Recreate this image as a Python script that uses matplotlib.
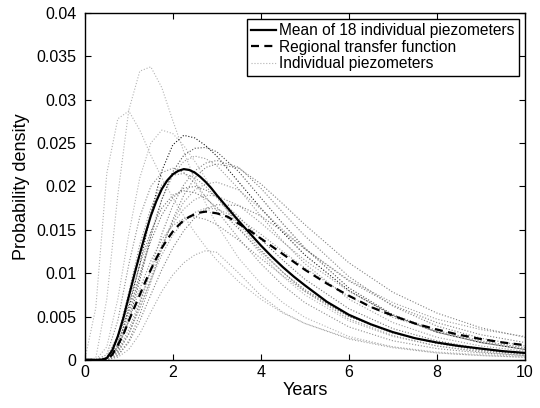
import numpy as np
import matplotlib.pyplot as plt
from matplotlib.ticker import FuncFormatter

plt.rcParams['font.family'] = ['Liberation Sans', 'DejaVu Sans']

years_fine = [0, 0.25, 0.375, 0.5, 0.625, 0.75, 0.875, 1.0, 1.125, 1.25, 1.375, 1.5,
              1.625, 1.75, 1.875, 2.0, 2.125, 2.25, 2.375, 2.5, 2.625, 2.75, 2.875, 3.0,
              3.25, 3.5, 3.75, 4.0, 4.25, 4.5, 4.75, 5.0,
              5.5, 6.0, 6.5, 7.0, 7.5, 8.0, 8.5, 9.0, 9.5, 10.0]

mean_pdf = [0, 0, 0, 0.0002, 0.0011, 0.0027, 0.0048, 0.0073, 0.0098, 0.0122, 0.0145, 0.0166,
            0.0183, 0.0197, 0.0207, 0.0214, 0.0218, 0.0220, 0.0219, 0.0216, 0.0211, 0.0205, 0.0198, 0.0190,
            0.0175, 0.0160, 0.0146, 0.0132, 0.0119, 0.0107, 0.0096, 0.0086,
            0.0067, 0.0052, 0.0041, 0.0032, 0.0025, 0.0020, 0.0016, 0.0013, 0.0010, 0.0008]

regional_pdf = [0, 0, 0, 0, 0.0006, 0.0017, 0.0029, 0.0045, 0.0060, 0.0075, 0.0090, 0.0104,
                0.0117, 0.0129, 0.0139, 0.0148, 0.0155, 0.0161, 0.0165, 0.0168, 0.0170, 0.0171, 0.0170, 0.0169,
                0.0165, 0.0157, 0.0149, 0.0140, 0.0131, 0.0122, 0.0113, 0.0104,
                0.0088, 0.0074, 0.0061, 0.0051, 0.0042, 0.0035, 0.0029, 0.0024, 0.0020, 0.0017]

# 18 individual piezometers
years = [0, 0.25, 0.5, 0.75, 1.0, 1.25, 1.5, 1.75, 2.0, 2.25, 2.5, 2.75,
         3.0, 3.5, 4.0, 4.5, 5.0, 6.0, 7.0, 8.0, 9.0, 10.0]

piezometers = [
    [0, 0.0002, 0.007, 0.019, 0.0288, 0.0333, 0.0338, 0.0314, 0.0276, 0.0240, 0.0208,
     0.0180, 0.0156, 0.0117, 0.0088, 0.0066, 0.0049, 0.0027, 0.0015, 0.0008, 0.0005, 0.0003],
    [0, 0.006, 0.0215, 0.0278, 0.0287, 0.0265, 0.0236, 0.0210, 0.0187, 0.0166, 0.0147,
     0.0130, 0.0115, 0.0090, 0.0070, 0.0054, 0.0042, 0.0025, 0.0015, 0.0009, 0.0006, 0.0004],
    [0, 0, 0.0015, 0.007, 0.0145, 0.0210, 0.0250, 0.0265, 0.0261, 0.0247, 0.0229,
     0.0209, 0.0189, 0.0153, 0.0122, 0.0096, 0.0075, 0.0045, 0.0027, 0.0016, 0.0010, 0.0006],
    [0, 0, 0, 0.0015, 0.0060, 0.0110, 0.0168, 0.0218, 0.0248, 0.0259, 0.0256,
     0.0247, 0.0235, 0.0205, 0.0175, 0.0147, 0.0121, 0.0080, 0.0051, 0.0032, 0.0020, 0.0012],
    [0, 0, 0, 0.0010, 0.0030, 0.0060, 0.0095, 0.0130, 0.0160, 0.0182, 0.0196,
     0.0203, 0.0205, 0.0196, 0.0174, 0.0150, 0.0128, 0.0092, 0.0066, 0.0047, 0.0035, 0.0027],
    [0, 0, 0, 0.0003, 0.0012, 0.0030, 0.0055, 0.0079, 0.0098, 0.0112, 0.0121,
     0.0126, 0.0124, 0.0100, 0.0074, 0.0055, 0.0042, 0.0024, 0.0014, 0.0008, 0.0005, 0.0003],
    [0, 0, 0, 0.0015, 0.0050, 0.0098, 0.0145, 0.0185, 0.0213, 0.0229, 0.0235,
     0.0232, 0.0224, 0.0197, 0.0166, 0.0137, 0.0111, 0.0070, 0.0043, 0.0026, 0.0016, 0.0010],
    [0, 0, 0, 0.0008, 0.0030, 0.0065, 0.0105, 0.0145, 0.0178, 0.0202, 0.0218,
     0.0227, 0.0230, 0.0222, 0.0198, 0.0170, 0.0143, 0.0096, 0.0062, 0.0039, 0.0025, 0.0016],
    [0, 0, 0.0003, 0.0028, 0.0078, 0.0133, 0.0175, 0.0202, 0.0213, 0.0215, 0.0210,
     0.0200, 0.0187, 0.0157, 0.0127, 0.0101, 0.0079, 0.0047, 0.0028, 0.0016, 0.0009, 0.0005],
    [0, 0, 0, 0.0018, 0.0055, 0.0098, 0.0137, 0.0167, 0.0187, 0.0198, 0.0200,
     0.0196, 0.0188, 0.0165, 0.0139, 0.0115, 0.0093, 0.0059, 0.0036, 0.0022, 0.0013, 0.0008],
    [0, 0, 0, 0.0010, 0.0035, 0.0068, 0.0102, 0.0133, 0.0157, 0.0174, 0.0185,
     0.0190, 0.0189, 0.0178, 0.0158, 0.0136, 0.0115, 0.0079, 0.0052, 0.0034, 0.0022, 0.0014],
    [0, 0, 0, 0.0005, 0.0020, 0.0045, 0.0075, 0.0104, 0.0129, 0.0149, 0.0164,
     0.0174, 0.0179, 0.0178, 0.0166, 0.0148, 0.0128, 0.0091, 0.0063, 0.0043, 0.0029, 0.0020],
    [0, 0, 0.0002, 0.0015, 0.0045, 0.0082, 0.0114, 0.0139, 0.0155, 0.0163, 0.0165,
     0.0162, 0.0156, 0.0138, 0.0117, 0.0097, 0.0079, 0.0050, 0.0031, 0.0019, 0.0012, 0.0007],
    [0, 0, 0, 0.0012, 0.0045, 0.0092, 0.0142, 0.0185, 0.0217, 0.0236, 0.0244,
     0.0245, 0.0240, 0.0217, 0.0187, 0.0157, 0.0129, 0.0083, 0.0052, 0.0032, 0.0020, 0.0012],
    [0, 0, 0.0006, 0.0045, 0.0110, 0.0165, 0.0200, 0.0216, 0.0221, 0.0216, 0.0204,
     0.0188, 0.0172, 0.0140, 0.0111, 0.0086, 0.0066, 0.0038, 0.0022, 0.0013, 0.0008, 0.0005],
    [0, 0, 0, 0.0005, 0.0022, 0.0052, 0.0090, 0.0128, 0.0162, 0.0190, 0.0210,
     0.0222, 0.0226, 0.0221, 0.0203, 0.0180, 0.0156, 0.0112, 0.0078, 0.0054, 0.0037, 0.0026],
    [0, 0, 0.0001, 0.0022, 0.0065, 0.0110, 0.0148, 0.0175, 0.0190, 0.0195, 0.0193,
     0.0186, 0.0176, 0.0151, 0.0125, 0.0101, 0.0081, 0.0050, 0.0031, 0.0019, 0.0011, 0.0007],
    [0, 0, 0, 0.0008, 0.0030, 0.0060, 0.0092, 0.0121, 0.0144, 0.0160, 0.0170,
     0.0175, 0.0174, 0.0163, 0.0145, 0.0125, 0.0106, 0.0073, 0.0049, 0.0033, 0.0021, 0.0014],
]
grays = ['0.7', '0.7', '0.7', '0.1', '0.6', '0.65', '0.6', '0.5', '0.55',
         '0.45', '0.6', '0.5', '0.55', '0.3', '0.55', '0.5', '0.45', '0.6']

fig = plt.figure(figsize=(5.4, 4.08), dpi=100)
ax = fig.add_axes([0.157, 0.118, 0.815, 0.85])

for i, (vals, g) in enumerate(zip(piezometers, grays)):
    ax.plot(years, vals, ls=':', lw=0.8, color=g,
            label='Individual piezometers' if i == 0 else None, zorder=2)

ax.plot(years_fine, mean_pdf, color='k', lw=1.6,
        label='Mean of 18 individual piezometers', zorder=3)
ax.plot(years_fine, regional_pdf, color='k', lw=1.6, ls=(0, (3.6, 2.4)),
        label='Regional transfer function', zorder=3)

ax.set_xlim(0, 10)
ax.set_ylim(0, 0.04)
ax.set_xticks(np.arange(0, 11, 2))
ax.set_yticks(np.arange(0, 0.0401, 0.005))
ax.yaxis.set_major_formatter(FuncFormatter(lambda v, p: f'{v:g}'))
ax.tick_params(direction='in', length=4, top=True, right=True, labelsize=11.5)
ax.tick_params(axis='y', pad=6)
for s in ax.spines.values():
    s.set_linewidth(1.0)

ax.set_xlabel('Years', fontsize=13, labelpad=2)
ax.set_ylabel('Probability density', fontsize=13, labelpad=5)

h, l = ax.get_legend_handles_labels()
order = [1, 2, 0]
leg = ax.legend([h[i] for i in order], [l[i] for i in order], loc='upper right',
                fontsize=11.2, fancybox=False, framealpha=1, edgecolor='k',
                handlelength=1.6, handletextpad=0.2, borderpad=0.3,
                labelspacing=0.1, borderaxespad=0.35)
leg.get_frame().set_linewidth(1.0)

fig.savefig('out.png', dpi=100)
